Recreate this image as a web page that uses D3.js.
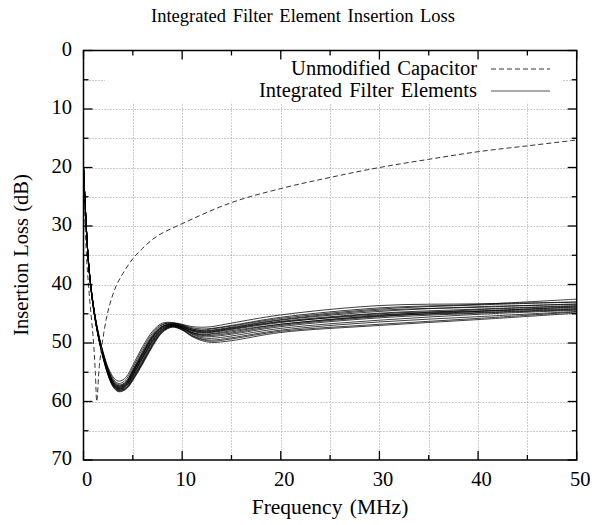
<!DOCTYPE html>
<html><head><meta charset="utf-8">
<script src="https://cdn.jsdelivr.net/npm/d3@7"></script>
<style>
html,body{margin:0;padding:0;background:#fff;}
text{font-family:"Liberation Serif","Times New Roman",serif;fill:#000;}
</style></head>
<body>
<svg id="chart" width="606" height="525"></svg>
<script>
// ---------- data ----------
const xTicks = [0, 10, 20, 30, 40, 50];
const yTicks = [0, 10, 20, 30, 40, 50, 60, 70];
const xMinor = [5, 15, 25, 35, 45];
const yMinor = [5, 15, 25, 35, 45, 55, 65];
const seriesNames = ["Unmodified Capacitor", "Integrated Filter Elements"];

// Unmodified capacitor (dashed)
const capFreq = [0, 0.3, 0.6, 1.0, 1.2, 1.35, 1.6, 1.9, 2.3, 2.7, 3.3, 4, 5, 6, 7.4, 10, 15, 20, 25, 30, 35, 40, 45, 50];
const capLoss = [22, 35, 42, 49.5, 55, 60, 54, 50, 46, 43.2, 40.3, 38.1, 35.6, 33.8, 31.8, 29.6, 26.0, 23.6, 21.7, 20.0, 18.6, 17.3, 16.3, 15.3];

// Integrated filter elements (solid bundle), common frequency grid
const ifeFreq = [0, 0.5, 1, 1.5, 2, 2.5, 3, 3.5, 4, 4.5, 5, 6, 7, 8, 9, 10, 11, 12, 13, 15, 20, 30, 40, 50];
const ife01 = [20, 36.0, 43.5, 48.2, 51.6, 54.2, 55.8, 56.5, 56.3, 55.4, 53.8, 50.6, 48.0, 46.6, 46.5, 46.8, 47.2, 47.3, 47.2, 46.6, 45.2, 43.6, 43.3, 43.0];
const ife02 = [20, 36.0, 43.5, 48.3, 51.7, 54.4, 56.1, 56.9, 56.7, 55.8, 54.2, 51.0, 48.3, 46.8, 46.6, 46.9, 47.4, 47.6, 47.5, 47.0, 45.6, 44.0, 43.4, 42.5];
const ife03 = [20, 36.0, 43.6, 48.4, 51.9, 54.6, 56.3, 57.1, 57.0, 56.2, 54.7, 51.6, 48.8, 47.1, 46.7, 47.0, 47.6, 47.9, 47.8, 47.3, 46.0, 44.4, 43.9, 43.3];
const ife04 = [20, 36.0, 43.6, 48.5, 52.0, 54.7, 56.5, 57.3, 57.2, 56.4, 54.9, 51.9, 49.0, 47.2, 46.8, 47.1, 47.8, 48.1, 48.0, 47.5, 46.3, 44.9, 44.2, 43.6];
const ife05 = [20, 36.0, 43.7, 48.6, 52.1, 54.9, 56.7, 57.5, 57.4, 56.7, 55.2, 52.2, 49.3, 47.4, 46.9, 47.3, 48.0, 48.3, 48.2, 47.7, 46.5, 45.0, 44.5, 43.9];
const ife06 = [20, 36.0, 43.7, 48.6, 52.2, 55.0, 56.9, 57.7, 57.6, 56.9, 55.5, 52.5, 49.6, 47.6, 47.0, 47.4, 48.2, 48.5, 48.4, 47.9, 46.8, 45.4, 44.8, 44.2];
const ife07 = [20, 36.1, 43.8, 48.7, 52.3, 55.1, 57.0, 57.8, 57.7, 57.0, 55.6, 52.6, 49.7, 47.7, 47.0, 47.4, 48.3, 48.7, 48.7, 48.3, 47.0, 45.5, 44.6, 43.8];
const ife08 = [20, 36.1, 43.8, 48.7, 52.3, 55.1, 56.9, 57.6, 57.4, 56.6, 55.1, 52.0, 49.1, 47.3, 46.8, 47.2, 47.9, 48.2, 48.1, 47.6, 46.4, 45.2, 44.6, 44.1];
const ife09 = [20, 36.1, 43.9, 48.8, 52.4, 55.2, 57.1, 57.9, 57.8, 57.1, 55.8, 52.9, 49.9, 47.8, 47.1, 47.5, 48.4, 48.9, 48.9, 48.5, 47.2, 45.7, 44.9, 44.3];
const ife10 = [20, 36.1, 43.9, 48.8, 52.4, 55.3, 57.2, 58.0, 57.9, 57.3, 56.0, 53.1, 50.1, 47.9, 47.1, 47.6, 48.5, 49.1, 49.2, 48.8, 47.5, 46.1, 45.1, 44.4];
const ife11 = [20, 36.1, 43.8, 48.6, 52.1, 54.8, 56.6, 57.3, 57.1, 56.2, 54.6, 51.4, 48.6, 46.9, 46.6, 47.0, 47.6, 47.8, 47.6, 47.1, 45.8, 44.2, 43.5, 43.0];
const ife12 = [20, 36.2, 44.0, 48.9, 52.5, 55.4, 57.3, 58.1, 58.0, 57.4, 56.1, 53.3, 50.3, 48.0, 47.2, 47.7, 48.7, 49.3, 49.5, 49.1, 47.8, 46.4, 45.5, 44.6];
const ife13 = [20, 36.2, 44.0, 48.9, 52.6, 55.5, 57.4, 58.2, 58.1, 57.5, 56.3, 53.4, 50.4, 48.1, 47.2, 47.7, 48.8, 49.4, 49.7, 49.3, 48.0, 46.8, 45.8, 44.7];
const ife14 = [20, 36.0, 43.7, 48.5, 52.0, 54.8, 56.7, 57.5, 57.3, 56.5, 55.0, 51.8, 48.9, 47.2, 46.8, 47.2, 47.8, 48.0, 47.9, 47.4, 46.1, 44.6, 43.8, 43.4];
const ife15 = [20, 36.1, 43.8, 48.7, 52.3, 55.2, 57.0, 57.8, 57.6, 56.8, 55.4, 52.4, 49.5, 47.5, 47.0, 47.4, 48.2, 48.6, 48.5, 48.1, 46.8, 45.3, 44.3, 43.7];
const ife16 = [20, 36.2, 44.0, 49.0, 52.7, 55.6, 57.5, 58.3, 58.2, 57.6, 56.4, 53.6, 50.6, 48.2, 47.3, 47.8, 48.9, 49.6, 49.9, 49.6, 48.2, 47.0, 46.0, 44.9];
const ifeCurves = [ife01, ife02, ife03, ife04, ife05, ife06, ife07, ife08, ife09, ife10, ife11, ife12, ife13, ife14, ife15, ife16];

// ---------- drawing ----------
const svg = d3.select("#chart");
const x = d3.scaleLinear().domain([0, 50]).range([83.5, 576.7]);
const y = d3.scaleLinear().domain([0, 70]).range([50.5, 460]);

// title
svg.append("text").attr("x", 303).attr("y", 22).attr("text-anchor", "middle")
  .style("font-size", "18.5px").style("word-spacing", "2px")
  .text("Integrated Filter Element Insertion Loss");

// grid
const gridG = svg.append("g").attr("stroke", "#9a9a9a").attr("stroke-width", 1).attr("stroke-dasharray", "1,2");
const gx = xTicks.concat(xMinor).filter(v => v > 0 && v < 50);
const gy = yTicks.concat(yMinor).filter(v => v > 0 && v < 70);
gridG.selectAll("line.gx").data(gx).join("line").attr("class", "gx")
  .attr("x1", d => Math.round(x(d)) + 0.5).attr("x2", d => Math.round(x(d)) + 0.5)
  .attr("y1", y(0)).attr("y2", y(70));
gridG.selectAll("line.gy").data(gy).join("line").attr("class", "gy")
  .attr("y1", d => Math.round(y(d)) + 0.5).attr("y2", d => Math.round(y(d)) + 0.5)
  .attr("x1", x(0)).attr("x2", x(50));

// legend backdrop (hides grid, like the original)
svg.append("rect").attr("x", 105).attr("y", y(0) + 1).attr("width", 458).attr("height", 51).attr("fill", "#fff");

// curves
svg.append("clipPath").attr("id", "clip").append("rect")
  .attr("x", x(0)).attr("y", y(0)).attr("width", x(50) - x(0)).attr("height", y(70) - y(0));
const plotG = svg.append("g").attr("clip-path", "url(#clip)");
const line = d3.line().x(d => x(d[0])).y(d => y(d[1])).curve(d3.curveCatmullRom.alpha(0.5));

plotG.selectAll("path.ife").data(ifeCurves).join("path").attr("class", "ife")
  .attr("d", c => line(ifeFreq.map((f, i) => [f, c[i]])))
  .attr("fill", "none").attr("stroke", "#000").attr("stroke-width", 0.75);

plotG.append("path")
  .attr("d", line(capFreq.map((f, i) => [f, capLoss[i]])))
  .attr("fill", "none").attr("stroke", "#333").attr("stroke-width", 1)
  .attr("stroke-dasharray", "5,3");

// frame
svg.append("rect").attr("x", x(0)).attr("y", y(0)).attr("width", x(50) - x(0)).attr("height", y(70) - y(0))
  .attr("fill", "none").attr("stroke", "#000").attr("stroke-width", 1.5);

// ticks (inward, mirrored)
const tickG = svg.append("g").attr("stroke", "#000").attr("stroke-width", 1.3);
function xt(vals, len) {
  tickG.selectAll(null).data(vals).join("line")
    .attr("x1", d => x(d)).attr("x2", d => x(d)).attr("y1", y(70)).attr("y2", y(70) - len);
  tickG.selectAll(null).data(vals).join("line")
    .attr("x1", d => x(d)).attr("x2", d => x(d)).attr("y1", y(0)).attr("y2", y(0) + len);
}
function yt(vals, len) {
  tickG.selectAll(null).data(vals).join("line")
    .attr("y1", d => y(d)).attr("y2", d => y(d)).attr("x1", x(0)).attr("x2", x(0) + len);
  tickG.selectAll(null).data(vals).join("line")
    .attr("y1", d => y(d)).attr("y2", d => y(d)).attr("x1", x(50)).attr("x2", x(50) - len);
}
xt(xTicks, 9); xt(xMinor, 5);
yt(yTicks, 9); yt(yMinor, 5);

// tick labels
svg.append("g").selectAll("text").data(xTicks).join("text")
  .attr("x", d => x(d) + 3.5).attr("y", 486).attr("text-anchor", "middle")
  .style("font-size", "20.5px").text(d => d);
svg.append("g").selectAll("text").data(yTicks).join("text")
  .attr("x", 72).attr("y", d => y(d) + 5).attr("text-anchor", "end")
  .style("font-size", "20.5px").text(d => d);

// axis titles
svg.append("text").attr("x", 330).attr("y", 514).attr("text-anchor", "middle")
  .style("font-size", "21.5px").style("word-spacing", "2px").text("Frequency (MHz)");
svg.append("text").attr("transform", "translate(28,255) rotate(-90)").attr("text-anchor", "middle")
  .style("font-size", "20.5px").style("word-spacing", "1px").text("Insertion Loss (dB)");

// legend
const legY = [69, 91];
const legG = svg.append("g");
legG.selectAll("text").data(seriesNames).join("text")
  .attr("x", 477).attr("y", (d, i) => legY[i] + 6).attr("text-anchor", "end")
  .style("font-size", "20.5px").style("word-spacing", "2px").text(d => d);
legG.append("line").attr("x1", 491).attr("x2", 550).attr("y1", legY[0]).attr("y2", legY[0])
  .attr("stroke", "#333").attr("stroke-width", 1).attr("stroke-dasharray", "5,3");
legG.append("line").attr("x1", 491).attr("x2", 550).attr("y1", legY[1]).attr("y2", legY[1])
  .attr("stroke", "#555").attr("stroke-width", 1);
</script>
</body></html>
